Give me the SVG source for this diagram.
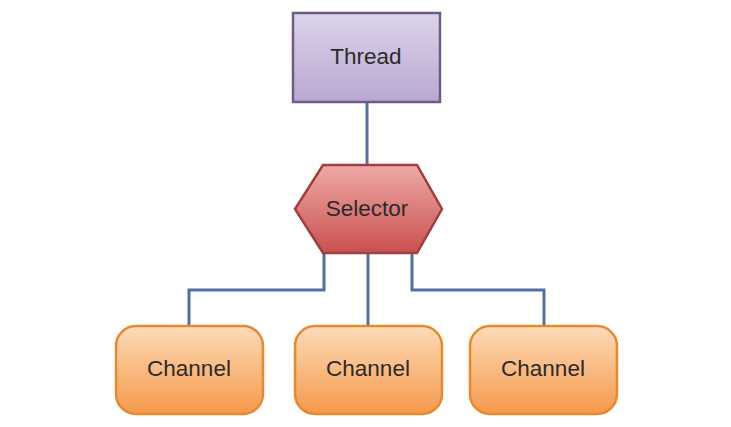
<svg xmlns="http://www.w3.org/2000/svg" width="731" height="427" viewBox="0 0 731 427">
<style>
.lbl{font-family:"Liberation Sans",Arial,sans-serif;fill:#2b2b2b;text-anchor:middle;dominant-baseline:central;font-size:22.5px}
.conn{fill:none;stroke:#4f70a0;stroke-width:3}
.ch{fill:url(#gC);stroke:#e8892e;stroke-width:2.5}
</style>
<defs>
<linearGradient id="gT" x1="0" y1="0" x2="0" y2="1"><stop offset="0" stop-color="#ddd3ea"/><stop offset="1" stop-color="#b9a7d1"/></linearGradient>
<linearGradient id="gS" x1="0" y1="0" x2="0" y2="1"><stop offset="0" stop-color="#eeaaa8"/><stop offset="1" stop-color="#c9504f"/></linearGradient>
<linearGradient id="gC" x1="0" y1="0" x2="0" y2="1"><stop offset="0" stop-color="#fddbb9"/><stop offset="1" stop-color="#f5994a"/></linearGradient>
</defs>
<rect width="731" height="427" fill="#ffffff"/>
<g id="connectors">
<path class="conn" d="M367 102 V166"/>
<path class="conn" d="M324 252 V290 H189 V326"/>
<path class="conn" d="M368 252 V326"/>
<path class="conn" d="M412 252 V290 H544 V326"/>
</g>
<g id="thread">
<rect x="293" y="13" width="147" height="89" fill="url(#gT)" stroke="#6c5c86" stroke-width="2.5"/>
<text class="lbl" x="366" y="56">Thread</text>
</g>
<g id="selector">
<polygon points="323,165 417,165 442,209 417,253 323,253 295,209" fill="url(#gS)" stroke="#a13e3e" stroke-width="2.5"/>
<text class="lbl" x="367" y="208">Selector</text>
</g>
<g id="channel1">
<rect class="ch" x="116" y="326" width="147" height="88" rx="20"/>
<text class="lbl" x="189" y="368">Channel</text>
</g>
<g id="channel2">
<rect class="ch" x="295" y="326" width="147" height="88" rx="20"/>
<text class="lbl" x="368" y="368">Channel</text>
</g>
<g id="channel3">
<rect class="ch" x="470" y="326" width="147" height="88" rx="20"/>
<text class="lbl" x="543" y="368">Channel</text>
</g>
</svg>
